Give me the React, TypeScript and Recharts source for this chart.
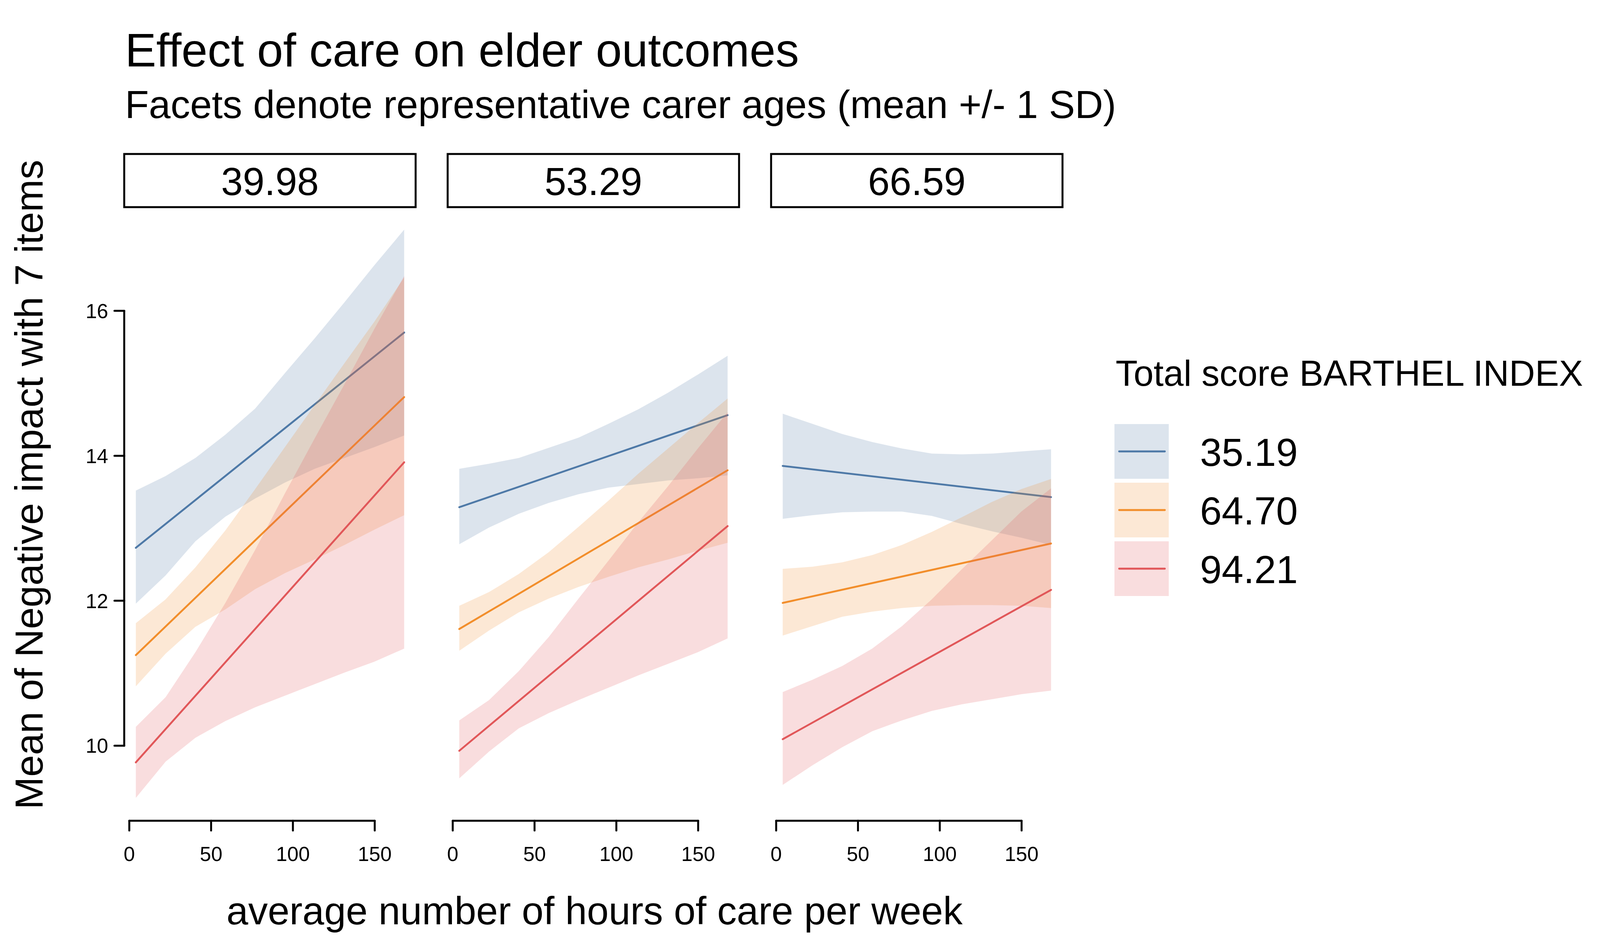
import React from 'react';
import { ComposedChart, Area, Line, XAxis, YAxis, ReferenceLine } from 'recharts';

// hours of care per week at which the predictions were drawn
const hours = [4, 22.2, 40.4, 58.7, 76.9, 95.1, 113.3, 131.6, 149.8, 168];

const carerAges = ['39.98', '53.29', '66.59'];
const barthelLevels = ['35.19', '64.70', '94.21'];
const colors = ['#4E79A7', '#F28E2B', '#E15759'];

const xTicks = [0, 50, 100, 150];
const yTicks = [10, 12, 14, 16];

// facet 39.98 : confidence bands for each Barthel level (blue, orange, red)
const lower1 = [
    [11.96, 12.35, 12.82, 13.16, 13.41, 13.63, 13.82, 13.97, 14.12, 14.28],
    [10.82, 11.27, 11.64, 11.88, 12.16, 12.38, 12.57, 12.77, 12.98, 13.18],
    [9.28, 9.78, 10.11, 10.34, 10.53, 10.69, 10.85, 11.01, 11.16, 11.34],
];
const upper1 = [
    [13.52, 13.72, 13.97, 14.29, 14.65, 15.14, 15.62, 16.12, 16.63, 17.12],
    [11.69, 12.02, 12.46, 12.97, 13.54, 14.12, 14.7, 15.28, 15.85, 16.46],
    [10.26, 10.67, 11.29, 11.97, 12.7, 13.48, 14.24, 14.99, 15.75, 16.48],
];
// start / end of each fitted line
const fit1 = [
    [12.73, 15.7],
    [11.25, 14.81],
    [9.77, 13.91],
];

// facet 53.29
const lower2 = [
    [12.78, 13.01, 13.2, 13.35, 13.47, 13.56, 13.61, 13.66, 13.69, 13.73],
    [11.31, 11.59, 11.84, 12.03, 12.19, 12.33, 12.46, 12.57, 12.69, 12.8],
    [9.55, 9.92, 10.24, 10.45, 10.63, 10.8, 10.97, 11.13, 11.29, 11.48],
];
const upper2 = [
    [13.82, 13.89, 13.97, 14.11, 14.25, 14.44, 14.64, 14.87, 15.12, 15.38],
    [11.93, 12.12, 12.37, 12.67, 13.02, 13.38, 13.75, 14.1, 14.45, 14.79],
    [10.35, 10.63, 11.03, 11.5, 12.03, 12.55, 13.08, 13.58, 14.1, 14.6],
];
const fit2 = [
    [13.29, 14.56],
    [11.61, 13.8],
    [9.93, 13.03],
];

// facet 66.59
const lower3 = [
    [13.13, 13.18, 13.22, 13.23, 13.23, 13.17, 13.06, 12.96, 12.87, 12.77],
    [11.52, 11.65, 11.78, 11.85, 11.9, 11.93, 11.94, 11.94, 11.93, 11.9],
    [9.46, 9.73, 9.98, 10.2, 10.35, 10.48, 10.57, 10.64, 10.71, 10.76],
];
const upper3 = [
    [14.58, 14.44, 14.3, 14.19, 14.1, 14.03, 14.02, 14.03, 14.06, 14.09],
    [12.44, 12.47, 12.53, 12.63, 12.77, 12.95, 13.15, 13.36, 13.54, 13.68],
    [10.74, 10.91, 11.1, 11.34, 11.65, 12.02, 12.43, 12.83, 13.23, 13.55],
];
const fit3 = [
    [13.86, 13.43],
    [11.97, 12.79],
    [10.09, 12.15],
];

const FONT = '"Liberation Sans", Arial, Helvetica, sans-serif';
const X_DOMAIN: [number, number] = [-3.1, 175];
const Y_DOMAIN: [number, number] = [8.965, 17.43];
const PANEL_LEFT = [318, 1146, 1974];
const PANEL_W = 746;
const PANEL_TOP = 530;
const PANEL_H = 1570;
const Y_AXIS_W = 120;
const X_AXIS_H = 150;

const buildRows = (lower: number[][], upper: number[][], fit: number[][]) =>
    hours.map((h, i) => {
        const row: Record<string, number | null> = { hours: h };
        for (let k = 0; k < 3; k++) {
            row['lo' + k] = lower[k][i];
            row['hi' + k] = upper[k][i];
            row['fit' + k] = i === 0 ? fit[k][0] : i === hours.length - 1 ? fit[k][1] : null;
        }
        return row;
    });

const facets = [
    buildRows(lower1, upper1, fit1),
    buildRows(lower2, upper2, fit2),
    buildRows(lower3, upper3, fit3),
];

const tickStyle = { fontSize: 52, fill: '#000', fontFamily: FONT };
const tickLineStyle = { stroke: '#000', strokeWidth: 5, strokeLinecap: 'round' as const };

const Facet: React.FC<{ idx: number }> = ({ idx }) => {
    const first = idx === 0;
    return (
        <div style={{ position: 'absolute', left: PANEL_LEFT[idx] - Y_AXIS_W, top: PANEL_TOP - 10 }}>
            <ComposedChart
                width={Y_AXIS_W + PANEL_W + 10}
                height={10 + PANEL_H + X_AXIS_H}
                data={facets[idx]}
                margin={{ top: 10, right: 10, bottom: 0, left: 0 }}
            >
                <XAxis
                    type="number"
                    dataKey="hours"
                    domain={X_DOMAIN}
                    ticks={xTicks}
                    interval={0}
                    allowDataOverflow
                    axisLine={false}
                    tickLine={tickLineStyle}
                    tickSize={25}
                    tickMargin={41}
                    tick={tickStyle}
                    height={X_AXIS_H}
                />
                <YAxis
                    type="number"
                    domain={Y_DOMAIN}
                    ticks={yTicks}
                    interval={0}
                    allowDataOverflow
                    width={Y_AXIS_W}
                    axisLine={false}
                    tickLine={first ? tickLineStyle : false}
                    tickSize={25}
                    tickMargin={16}
                    tick={first ? tickStyle : false}
                />
                {barthelLevels.map((level, k) => (
                    <React.Fragment key={level}>
                        <Area
                            type="linear"
                            dataKey={(d: any) => [d['lo' + k], d['hi' + k]]}
                            fill={colors[k]}
                            fillOpacity={0.2}
                            stroke="none"
                            isAnimationActive={false}
                            activeDot={false}
                            zIndex={101 + 2 * k}
                        />
                        <Line
                            type="linear"
                            dataKey={'fit' + k}
                            stroke={colors[k]}
                            strokeWidth={4.8}
                            strokeLinecap="round"
                            dot={false}
                            activeDot={false}
                            connectNulls
                            isAnimationActive={false}
                            zIndex={102 + 2 * k}
                        />
                    </React.Fragment>
                ))}
                <ReferenceLine
                    segment={[
                        { x: 0, y: Y_DOMAIN[0] },
                        { x: 150, y: Y_DOMAIN[0] },
                    ]}
                    stroke="#000"
                    strokeWidth={5}
                    strokeLinecap="round"
                    ifOverflow="visible"
                />
                {first && (
                    <ReferenceLine
                        segment={[
                            { x: X_DOMAIN[0], y: 10 },
                            { x: X_DOMAIN[0], y: 16 },
                        ]}
                        stroke="#000"
                        strokeWidth={5}
                        strokeLinecap="round"
                        ifOverflow="visible"
                    />
                )}
            </ComposedChart>
        </div>
    );
};

const App: React.FC = () => {
    return (
        <div style={{ position: 'absolute', left: 0, top: 0, width: 4200, height: 2400, background: '#fff' }}>
            <svg width={4200} height={2400} style={{ position: 'absolute', left: 0, top: 0 }} fontFamily={FONT}>
                <text x={320} y={170} fontSize={120} fill="#000">
                    Effect of care on elder outcomes
                </text>
                <text x={320} y={302} fontSize={100} fill="#000">
                    Facets denote representative carer ages (mean +/- 1 SD)
                </text>

                {carerAges.map((age, i) => (
                    <g key={age}>
                        <rect x={PANEL_LEFT[i]} y={394} width={PANEL_W} height={136} fill="#fff" stroke="#000" strokeWidth={5} />
                        <text x={PANEL_LEFT[i] + PANEL_W / 2} y={499} fontSize={100} textAnchor="middle" fill="#000">
                            {age}
                        </text>
                    </g>
                ))}

                <text transform="translate(109,1240) rotate(-90)" fontSize={100} textAnchor="middle" fill="#000">
                    Mean of Negative impact with 7 items
                </text>
                <text x={1522} y={2365} fontSize={100} textAnchor="middle" fill="#000">
                    average number of hours of care per week
                </text>

                <text x={2856} y={987} fontSize={92} fill="#000">
                    Total score BARTHEL INDEX
                </text>
                {barthelLevels.map((level, k) => (
                    <g key={level}>
                        <rect x={2853} y={1085 + 150 * k} width={139} height={140} fill={colors[k]} fillOpacity={0.2} />
                        <line
                            x1={2865}
                            x2={2982}
                            y1={1155 + 150 * k}
                            y2={1155 + 150 * k}
                            stroke={colors[k]}
                            strokeWidth={4.8}
                            strokeLinecap="round"
                        />
                        <text x={3072} y={1192 + 150 * k} fontSize={100} fill="#000">
                            {level}
                        </text>
                    </g>
                ))}
            </svg>
            {carerAges.map((age, i) => (
                <Facet key={age} idx={i} />
            ))}
        </div>
    );
};

export default App;
